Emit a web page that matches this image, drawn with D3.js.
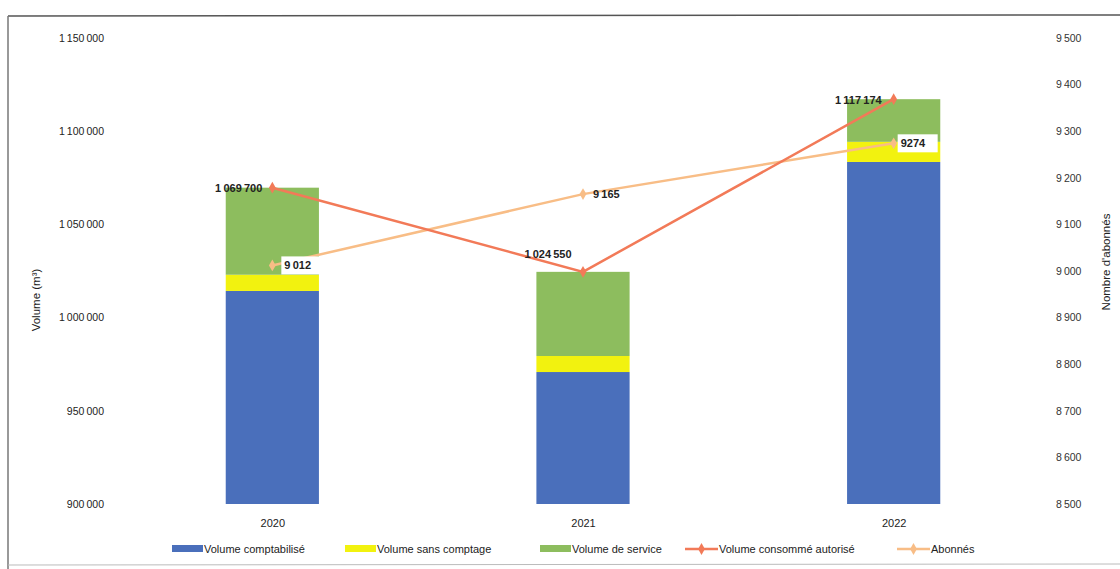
<!DOCTYPE html>
<html>
<head>
<meta charset="utf-8">
<script src="https://cdn.jsdelivr.net/npm/d3@7"></script>
<style>
  html, body { margin: 0; padding: 0; background: #fff; }
  svg { display: block; font-family: "Liberation Sans Narrow", "Arial Narrow", "Liberation Sans", sans-serif; }
</style>
</head>
<body>
<svg id="chart" width="1120" height="569"></svg>
<script>
// Years on the x axis
const years = ["2020", "2021", "2022"];

// Stacked volumes (m³)
const volumeComptabilise = [1014300, 970800, 1083500];
const volumeSansComptage = [8700, 8600, 10800];
const volumeService = [46700, 45150, 22874];

// Line series
const volumeConsommeAutorise = [1069700, 1024550, 1117174];
const abonnes = [9012, 9165, 9274];

// Axis ticks
const leftTicks = [900000, 950000, 1000000, 1050000, 1100000, 1150000];
const rightTicks = [8500, 8600, 8700, 8800, 8900, 9000, 9100, 9200, 9300, 9400, 9500];

const seriesNames = ["Volume comptabilisé", "Volume sans comptage", "Volume de service", "Volume consommé autorisé", "Abonnés"];
const colors = ["#4a6fbb", "#f2f20f", "#8dbd5e", "#f27a58", "#f8bd86"];

const svg = d3.select("#chart");
const fr = d3.formatLocale({ decimal: ",", thousands: "\u202f", grouping: [3], currency: ["", " €"] });
const fmt = fr.format(",d");

const plotTop = 38, plotBottom = 504;
const x = d3.scalePoint().domain(years).range([117, 1049]).padding(0.5);
const barW = x.step() * 0.30;
const yL = d3.scaleLinear().domain([900000, 1150000]).range([plotBottom, plotTop]);
const yR = d3.scaleLinear().domain([8500, 9500]).range([plotBottom, plotTop]);

// Page frame
svg.append("line").attr("x1", 8).attr("x2", 1120).attr("y1", 16).attr("y2", 15)
  .attr("stroke", "#555").attr("stroke-width", 1.5);
svg.append("line").attr("x1", 8).attr("x2", 8).attr("y1", 16).attr("y2", 569)
  .attr("stroke", "#777").attr("stroke-width", 1.5);
svg.append("line").attr("x1", 8).attr("x2", 1120).attr("y1", 565).attr("y2", 564)
  .attr("stroke", "#bbb").attr("stroke-width", 1);

// Stacked bars, clipped at the axis minimum
const stackRows = years.map((yr, i) => ({
  year: yr,
  comptabilise: volumeComptabilise[i],
  sansComptage: volumeSansComptage[i],
  service: volumeService[i]
}));
const stacked = d3.stack().keys(["comptabilise", "sansComptage", "service"])(stackRows);
const yMin = yL.domain()[0];

svg.append("g").selectAll("g").data(stacked).join("g")
  .attr("fill", (d, i) => colors[i])
  .selectAll("rect").data(d => d).join("rect")
  .attr("x", d => x(d.data.year) - barW / 2)
  .attr("width", barW)
  .attr("y", d => yL(d[1]))
  .attr("height", d => yL(Math.max(d[0], yMin)) - yL(d[1]));

// Left axis
const axL = svg.append("g").attr("transform", "translate(104,0)")
  .call(d3.axisLeft(yL).tickValues(leftTicks).tickFormat(fmt).tickSize(0).tickPadding(0));
axL.select(".domain").remove();
axL.selectAll("text").attr("font-size", 10.5).attr("fill", "#222").attr("font-family", "inherit");

// Right axis
const axR = svg.append("g").attr("transform", "translate(1056,0)")
  .call(d3.axisRight(yR).tickValues(rightTicks).tickFormat(fmt).tickSize(0).tickPadding(0));
axR.select(".domain").remove();
axR.selectAll("text").attr("font-size", 10.5).attr("fill", "#333").attr("font-family", "inherit");

// Category axis
const axX = svg.append("g").attr("transform", `translate(0,${plotBottom + 5})`)
  .call(d3.axisBottom(x).tickSize(0).tickPadding(10));
axX.select(".domain").remove();
axX.selectAll("text").attr("font-size", 11).attr("fill", "#222").attr("font-family", "inherit");

// Axis titles
svg.append("text").attr("transform", "translate(40,300) rotate(-90)")
  .attr("text-anchor", "middle").attr("font-size", 11.5).attr("fill", "#222")
  .text("Volume (m³)");
svg.append("text").attr("transform", "translate(1110,262) rotate(-90)")
  .attr("text-anchor", "middle").attr("font-size", 11.5).attr("fill", "#222")
  .text("Nombre d'abonnés");

// Lines
const lineL = d3.line().x((d, i) => x(years[i])).y(d => yL(d));
const lineR = d3.line().x((d, i) => x(years[i])).y(d => yR(d));

svg.append("path").datum(abonnes).attr("d", lineR)
  .attr("fill", "none").attr("stroke", colors[4]).attr("stroke-width", 2.5);
svg.append("path").datum(volumeConsommeAutorise).attr("d", lineL)
  .attr("fill", "none").attr("stroke", colors[3]).attr("stroke-width", 2.5);

const diamond = d3.symbol().type(d3.symbolDiamond).size(40);
svg.append("g").selectAll("path").data(abonnes).join("path")
  .attr("d", diamond).attr("fill", colors[4])
  .attr("transform", (d, i) => `translate(${x(years[i])},${yR(d)})`);
svg.append("g").selectAll("path").data(volumeConsommeAutorise).join("path")
  .attr("d", diamond).attr("fill", colors[3])
  .attr("transform", (d, i) => `translate(${x(years[i])},${yL(d)})`);

// Data labels for the consumed volume
const volLabelOffsets = [[-10, 4, "end"], [-35, -14, "middle"], [-12, 5, "end"]];
svg.append("g").selectAll("text").data(volumeConsommeAutorise).join("text")
  .attr("x", (d, i) => x(years[i]) + volLabelOffsets[i][0])
  .attr("y", (d, i) => yL(d) + volLabelOffsets[i][1])
  .attr("text-anchor", (d, i) => volLabelOffsets[i][2])
  .attr("font-size", 11).attr("font-weight", "bold").attr("fill", "#222")
  .text(d => fmt(d));

// Data labels for subscribers (white boxes)
const aboLabelOffsets = [[12, 4, true], [10, 4, false], [7, 4, true]];
const aboFmt = [fmt, fmt, d3.format("d")];
const aboG = svg.append("g").selectAll("g").data(abonnes).join("g")
  .attr("transform", (d, i) => `translate(${x(years[i]) + aboLabelOffsets[i][0]},${yR(d) + aboLabelOffsets[i][1]})`);
aboG.filter((d, i) => aboLabelOffsets[i][2]).append("rect")
  .attr("x", -3).attr("y", -13).attr("width", 40).attr("height", 18).attr("fill", "#fff");
aboG.append("text")
  .attr("font-size", 11).attr("font-weight", "bold").attr("fill", "#222")
  .text((d, i) => aboFmt[i](d));

// Legend
const legendY = 549;
const legendItems = [
  { x: 172, type: "rect" },
  { x: 345, type: "rect" },
  { x: 540, type: "rect" },
  { x: 685, type: "line" },
  { x: 897, type: "line" }
];
const lg = svg.append("g").selectAll("g").data(legendItems).join("g")
  .attr("transform", d => `translate(${d.x},${legendY})`);
lg.filter(d => d.type === "rect").append("rect")
  .attr("x", 0).attr("y", -4).attr("width", 31).attr("height", 7)
  .attr("fill", d => colors[legendItems.indexOf(d)]);
lg.filter(d => d.type === "line").append("line")
  .attr("x1", 0).attr("x2", 33).attr("y1", 0).attr("y2", 0)
  .attr("stroke", d => colors[legendItems.indexOf(d)]).attr("stroke-width", 2.5);
lg.filter(d => d.type === "line").append("path")
  .attr("d", diamond).attr("transform", "translate(16.5,0)")
  .attr("fill", d => colors[legendItems.indexOf(d)]);
lg.append("text")
  .attr("x", d => d.type === "rect" ? 32 : 34).attr("y", 4)
  .attr("font-size", 11).attr("fill", "#222")
  .text(d => seriesNames[legendItems.indexOf(d)]);
</script>
</body>
</html>
